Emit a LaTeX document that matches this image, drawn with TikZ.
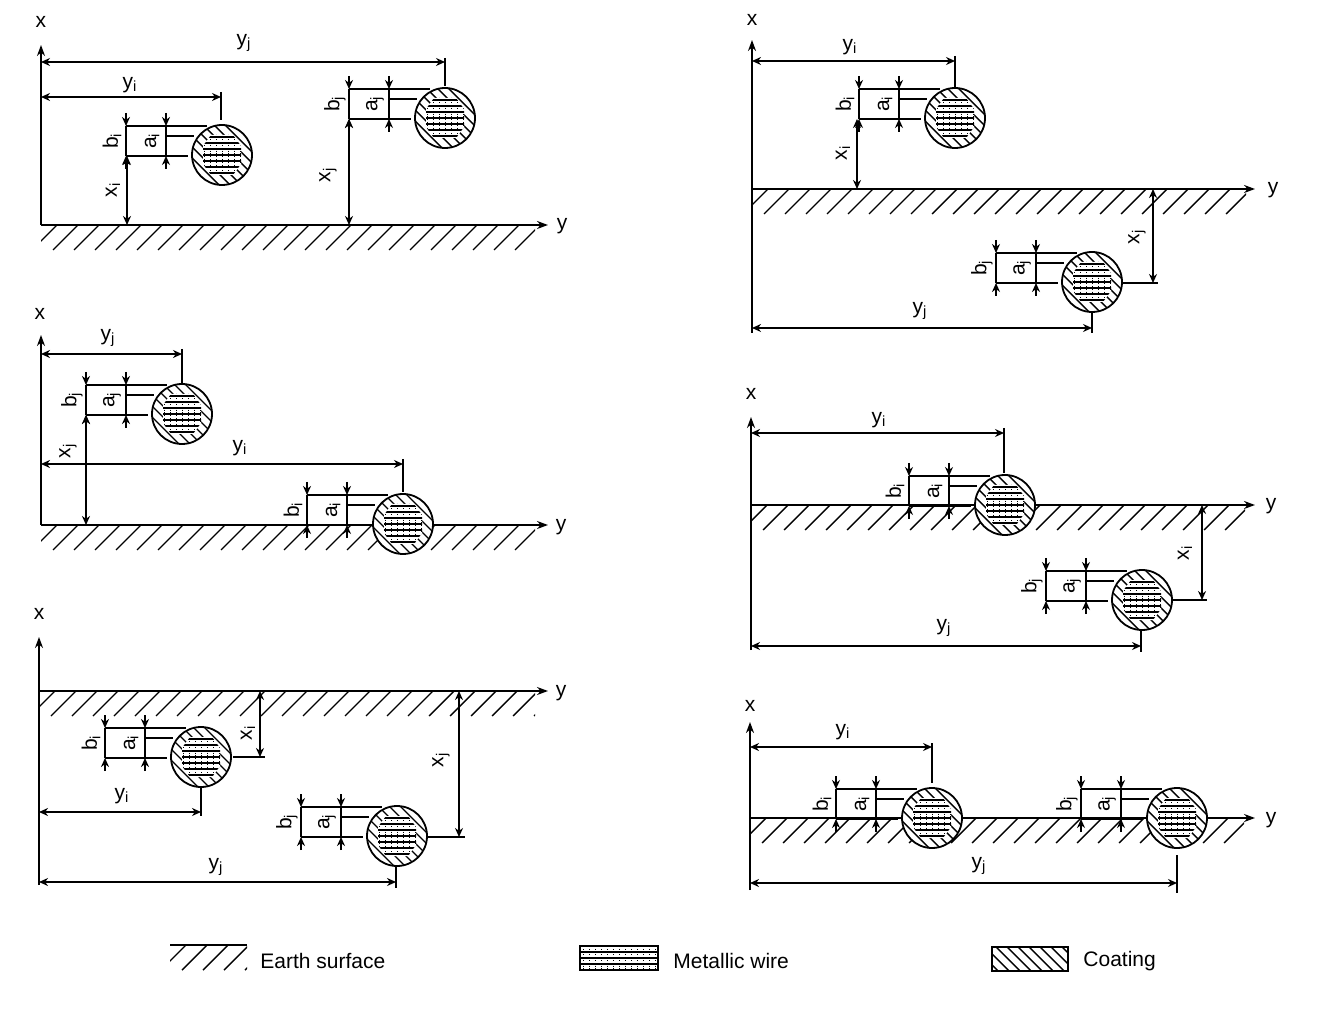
\documentclass[tikz,border=0pt]{standalone}
\usepackage{fontspec}
\setmainfont{Liberation Sans}
\usetikzlibrary{arrows.meta}
\tikzset{
  lab/.style={font=\fontsize{10.5}{12}\selectfont, inner sep=0pt},
  rotlab/.style={lab, rotate=90},
  heavy/.style={line width=0.9pt},
  thin line/.style={line width=0.7pt},
  hatchline/.style={line width=0.7pt},
  dim/.style={line width=0.8pt, {Stealth[length=4.5pt,width=4pt]}-{Stealth[length=4.5pt,width=4pt]}},
  tip/.style={line width=0.8pt, -{Stealth[length=4.5pt,width=4pt]}},
  axis/.style={line width=0.9pt, -{Stealth[length=5.5pt,width=4pt]}}
}
\newcommand{\surface}[3]{
  \begin{scope}[shift={(#1,#2)}]
    \clip (0,0) rectangle (#3,26);
    \foreach \k in {0,21,...,540}
      \draw[hatchline] (\k+16,0) -- (\k-9,25);
  \end{scope}
}
\newcommand{\corestripes}{
  \foreach \d in {-18,-12,...,18}
    \draw[thin line] (-24,\d) -- (24,\d);
  \foreach \d in {-18,-12,...,18}
    \draw[line width=0.4pt, densely dotted] (\d,-24) -- (\d,24);
}
\newcommand{\coatstripes}{
  \foreach \d in {-55,-44,...,55}
    \draw[hatchline] (\d-35,-35) -- (\d+35,35);
}
\newcommand{\wire}{
  \fill[white] (0,0) circle (30);
  \begin{scope}
    \clip (0,0) circle (30);
    \coatstripes
  \end{scope}
  \begin{scope}
    \clip (-11,-20) -- (11,-20) -- (19,-9) -- (19,9) -- (11,20) -- (-11,20) -- (-19,9) -- (-19,-9) -- cycle;
    \fill[white] (-24,-24) rectangle (24,24);
    \corestripes
  \end{scope}
  \draw[heavy] (0,0) circle (30);
}
% wire at (#1,#2) with its b and a dimensions, subscript #3
\newcommand{\wirepack}[3]{
  \begin{scope}[shift={(#1,#2)}]
    \draw[thin line] (-96,-29) -- (-15,-29);
    \draw[thin line] (-56,-19) -- (-28,-19);
    \draw[thin line] (-96,1) -- (-34,1);
    \foreach \xp in {-96,-56} {
      \draw[thin line] (\xp,-29) -- (\xp,1);
      \draw[tip] (\xp,-42) -- (\xp,-29);
      \draw[tip] (\xp,14) -- (\xp,1);
    }
    \node[rotlab] (b#3#1) at (-110,-14) {b\textsubscript{#3}};
    \node[rotlab] (a#3#1) at (-70,-14) {a\textsubscript{#3}};
    \wire
  \end{scope}
}
\begin{document}
\begin{tikzpicture}[x=0.5pt,y=-0.5pt]
  \useasboundingbox (0,0) rectangle (1342,1020);

  \begin{scope}
    \surface{41}{225}{494}
    \draw[axis] (41,225) -- (41,45);
    \draw[axis] (41,225) -- (548,225);
    \node[lab] (xA) at (41,22) {x};
    \node[lab] (yA) at (562,226) {y};
    \draw[dim] (41,62) -- (445,62);
    \draw[thin line] (445,58) -- (445,86);
    \node[lab] (yjA) at (244,43) {y\textsubscript{j}};
    \draw[dim] (41,97) -- (221,97);
    \draw[thin line] (221,92) -- (221,120);
    \node[lab] (yiA) at (130,85) {y\textsubscript{i}};
    \wirepack{222}{155}{i}
    \draw[dim] (127,156) -- (127,225);
    \node[rotlab] (xiA) at (113,190) {x\textsubscript{i}};
    \wirepack{445}{118}{j}
    \draw[dim] (349,119) -- (349,225);
    \node[rotlab] (xjA) at (328,175) {x\textsubscript{j}};
  \end{scope}

  \begin{scope}
    \surface{41}{525}{494}
    \draw[axis] (41,525) -- (41,335);
    \draw[axis] (41,525) -- (548,525);
    \node[lab] (xB) at (40,314) {x};
    \node[lab] (yB) at (561,527) {y};
    \draw[dim] (41,354) -- (182,354);
    \draw[thin line] (182,349) -- (182,384);
    \node[lab] (yjB) at (108,338) {y\textsubscript{j}};
    \wirepack{182}{414}{j}
    \draw[dim] (86,415) -- (86,525);
    \node[rotlab] (xjB) at (68,451) {x\textsubscript{j}};
    \draw[dim] (41,464) -- (403,464);
    \draw[thin line] (403,459) -- (403,492);
    \node[lab] (yiB) at (240,448) {y\textsubscript{i}};
    \wirepack{403}{524}{i}
  \end{scope}

  \begin{scope}
    \surface{39}{691}{496}
    \draw[axis] (39,885) -- (39,637);
    \draw[axis] (39,691) -- (548,691);
    \node[lab] (xC) at (39,614) {x};
    \node[lab] (yC) at (561,693) {y};
    \wirepack{201}{757}{i}
    \draw[dim] (260,691) -- (260,757);
    \draw[thin line] (233,757) -- (265,757);
    \node[rotlab] (xiC) at (248,733) {x\textsubscript{i}};
    \draw[dim] (39,812) -- (201,812);
    \draw[thin line] (201,787) -- (201,816);
    \node[lab] (yiC) at (122,796) {y\textsubscript{i}};
    \wirepack{397}{836}{j}
    \draw[dim] (459,691) -- (459,837);
    \draw[thin line] (427,837) -- (465,837);
    \node[rotlab] (xjC) at (441,760) {x\textsubscript{j}};
    \draw[dim] (39,882) -- (396,882);
    \draw[thin line] (396,866) -- (396,888);
    \node[lab] (yjC) at (216,867) {y\textsubscript{j}};
  \end{scope}

  \begin{scope}
    \surface{752}{189}{494}
    \draw[axis] (752,333) -- (752,40);
    \draw[axis] (752,189) -- (1255,189);
    \node[lab] (xD) at (752,20) {x};
    \node[lab] (yD) at (1273,190) {y};
    \draw[dim] (752,61) -- (955,61);
    \draw[thin line] (955,56) -- (955,88);
    \node[lab] (yiD) at (850,47) {y\textsubscript{i}};
    \wirepack{955}{118}{i}
    \draw[dim] (857,119) -- (857,189);
    \node[rotlab] (xiD) at (843,153) {x\textsubscript{i}};
    \wirepack{1092}{282}{j}
    \draw[dim] (1153,189) -- (1153,283);
    \draw[thin line] (1122,283) -- (1158,283);
    \node[rotlab] (xjD) at (1137,237) {x\textsubscript{j}};
    \draw[dim] (752,328) -- (1092,328);
    \draw[thin line] (1092,312) -- (1092,333);
    \node[lab] (yjD) at (920,311) {y\textsubscript{j}};
  \end{scope}

  \begin{scope}
    \surface{751}{505}{494}
    \draw[axis] (751,650) -- (751,417);
    \draw[axis] (751,505) -- (1255,505);
    \node[lab] (xE) at (751,394) {x};
    \node[lab] (yE) at (1271,506) {y};
    \draw[dim] (751,433) -- (1004,433);
    \draw[thin line] (1004,428) -- (1004,473);
    \node[lab] (yiE) at (879,420) {y\textsubscript{i}};
    \wirepack{1005}{505}{i}
    \wirepack{1142}{600}{j}
    \draw[dim] (1202,505) -- (1202,600);
    \draw[thin line] (1172,600) -- (1207,600);
    \node[rotlab] (xiE) at (1185,553) {x\textsubscript{i}};
    \draw[dim] (751,646) -- (1141,646);
    \draw[thin line] (1141,630) -- (1141,652);
    \node[lab] (yjE) at (944,628) {y\textsubscript{j}};
  \end{scope}

  \begin{scope}
    \surface{750}{818}{494}
    \draw[axis] (750,890) -- (750,722);
    \draw[axis] (750,818) -- (1255,818);
    \node[lab] (xF) at (750,706) {x};
    \node[lab] (yF) at (1271,820) {y};
    \draw[dim] (750,747) -- (932,747);
    \draw[thin line] (932,743) -- (932,783);
    \node[lab] (yiF) at (843,732) {y\textsubscript{i}};
    \wirepack{932}{818}{i}
    \wirepack{1177}{818}{j}
    \draw[dim] (750,883) -- (1177,883);
    \draw[thin line] (1177,855) -- (1177,893);
    \node[lab] (yjF) at (979,866) {y\textsubscript{j}};
  \end{scope}

  \surface{170}{945}{77}
  \draw[heavy] (170,945) -- (247,945);
  \node[lab, anchor=west] (earth) at (260,961) {Earth surface};

  \begin{scope}[shift={(619,958)}]
    \begin{scope}
      \clip (-39,-12) rectangle (39,12);
      \foreach \d in {-12,-6,...,12}
        \draw[thin line] (-39,\d) -- (39,\d);
      \foreach \d in {-36,-30,...,36}
        \draw[line width=0.4pt, densely dotted] (\d,-12) -- (\d,12);
    \end{scope}
    \draw[thin line] (-39,-12) rectangle (39,12);
  \end{scope}
  \node[lab, anchor=west] (metal) at (673,961) {Metallic wire};

  \begin{scope}[shift={(1030,959)}]
    \begin{scope}
      \clip (-38,-12) rectangle (38,12);
      \foreach \d in {-44,-33,...,44}
        \draw[hatchline] (\d-14,-14) -- (\d+14,14);
    \end{scope}
    \draw[thin line] (-38,-12) rectangle (38,12);
  \end{scope}
  \node[lab, anchor=west] (coat) at (1083,961) {Coating};
\end{tikzpicture}
\end{document}
